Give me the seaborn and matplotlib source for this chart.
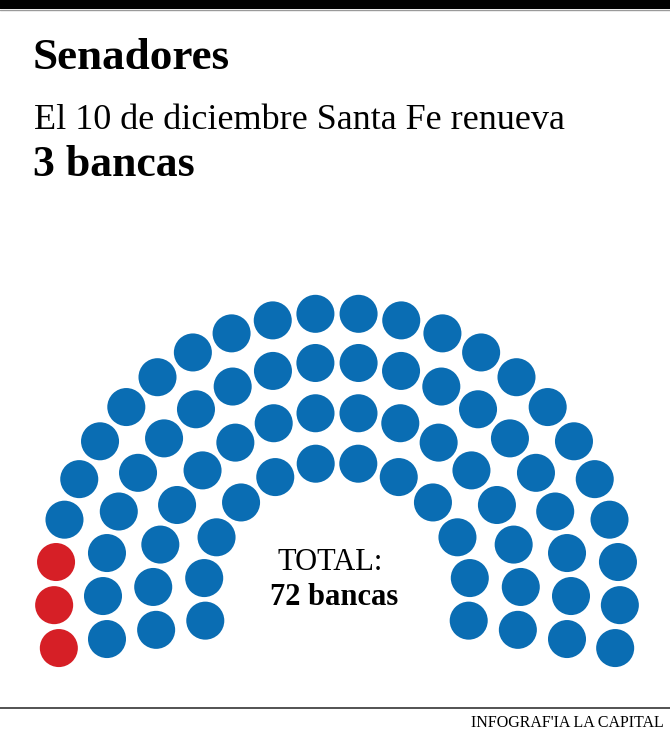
import numpy as np
import pandas as pd
import seaborn as sns
import matplotlib.pyplot as plt

# seats of the Santa Fe senate, one arc per row (outer to inner)
seats_per_row = [24, 20, 16, 12]
total_seats = 72
renewed_seats = 3

title = 'Senadores'
subtitle = 'El 10 de diciembre Santa Fe renueva'
subtitle_bold = '3 bancas'
total_label = 'TOTAL:'
total_value = '72 bancas'
credit = "INFOGRAF'IA LA CAPITAL"

blue = '#0a6db3'
red = '#d61f26'


def seat_layout():
    # hemicycle geometry, in pixels of the 670x732 canvas
    cx, cy = 337, 596
    radii = [283, 234, 184, 134]
    rows = []
    for r, n in zip(radii, seats_per_row):
        ang = np.radians(np.linspace(190.6, -10.6, n))
        for i, a in enumerate(ang):
            rows.append({'x': cx + r * np.cos(a), 'y': cy - r * np.sin(a),
                         'row': r, 'idx': i})
    df = pd.DataFrame(rows)
    # the renewed seats are the first ones of the outer row (left end)
    df['estado'] = 'continua'
    outer = df['row'] == radii[0]
    df.loc[outer & (df['idx'] < renewed_seats), 'estado'] = 'renueva'
    return df


def main():
    df = seat_layout()
    assert len(df) == total_seats

    sns.set_theme(style='white')
    plt.rcParams['font.family'] = ['Liberation Serif', 'DejaVu Serif']

    fig = plt.figure(figsize=(6.7, 7.32), dpi=100)
    ax = fig.add_axes([0, 0, 1, 1])
    ax.set_xlim(0, 670)
    ax.set_ylim(732, 0)
    ax.axis('off')

    sns.scatterplot(data=df, x='x', y='y', hue='estado',
                    palette={'continua': blue, 'renueva': red},
                    s=750, linewidth=0, legend=False, ax=ax)

    # top black band and bottom rule
    ax.axhspan(0, 9, color='black', lw=0)
    ax.axhline(10, color='#9a9a9a', lw=1)
    ax.axhline(708, color='#444444', lw=1.3)

    k = dict(color='black', va='baseline')
    ax.text(33, 69, title, fontsize=32.5, fontweight='bold', **k)
    ax.text(34, 129, subtitle, fontsize=26, **k)
    ax.text(33, 176, subtitle_bold, fontsize=31.5, fontweight='bold', **k)
    ax.text(330, 570, total_label, fontsize=22, ha='center', **k)
    ax.text(334, 605, total_value, fontsize=22, fontweight='bold',
            ha='center', **k)
    ax.text(664, 727, credit, fontsize=11.5, ha='right', **k)

    fig.savefig('out.png', dpi=100)


if __name__ == '__main__':
    main()
